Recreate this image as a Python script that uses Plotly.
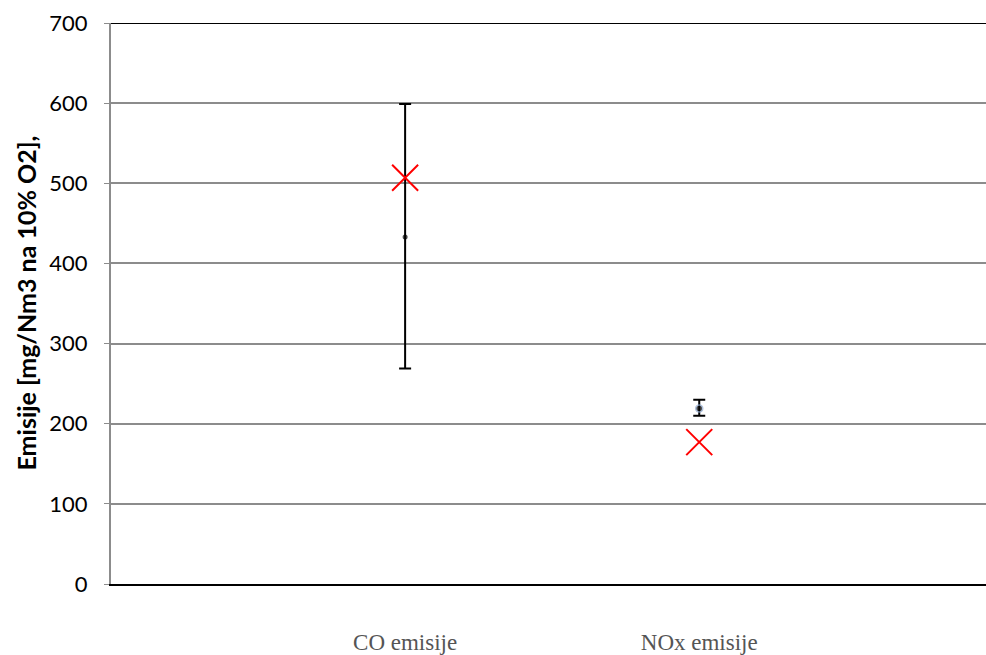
import plotly.graph_objects as go

categories = ["CO emisije", "NOx emisije"]
mean_values = [433, 219]
upper_values = [599, 230]
lower_values = [269, 210]
limit_values = [507, 177]
y_ticks = [0, 100, 200, 300, 400, 500, 600, 700]
y_title = "Emisije [mg/Nm3 na 10% O2],"

err_plus = [u - m for u, m in zip(upper_values, mean_values)]
err_minus = [m - l for m, l in zip(mean_values, lower_values)]

fig = go.Figure()
fig.add_trace(go.Scatter(
    x=categories, y=mean_values, mode="markers",
    marker=dict(size=[5, 7], color="black", line=dict(color=["black", "#8fa9d0"], width=[0, 1.5])),
    error_y=dict(type="data", symmetric=False, array=err_plus, arrayminus=err_minus,
                 color="black", thickness=2, width=6),
    showlegend=False, hoverinfo="y"))
fig.add_trace(go.Scatter(
    x=categories, y=limit_values, mode="markers",
    marker=dict(symbol="x-thin-open", size=26, color="red", line=dict(color="red", width=2)),
    showlegend=False))

fig.add_shape(type="line", xref="paper", yref="y", x0=0, x1=1, y0=700, y1=700,
              line=dict(color="black", width=2))

fig.add_annotation(
    text="<b>" + y_title + "</b>", xref="paper", yref="paper", x=0, y=0.5,
    xanchor="center", yanchor="middle", xshift=-86, textangle=-90, showarrow=False,
    font=dict(family="Lato, sans-serif", size=25, color="black"))

fig.update_layout(
    width=986, height=655,
    margin=dict(l=111, r=0, t=23, b=62),
    plot_bgcolor="white", paper_bgcolor="white",
    font=dict(family="Lato, sans-serif", color="black"),
)
fig.update_xaxes(
    type="category", categoryorder="array", categoryarray=categories,
    range=[-1.0, 1.975], showgrid=False, zeroline=False,
    showline=True, linecolor="black", linewidth=2,
    ticks="", ticklabelstandoff=36,
    tickfont=dict(family="Liberation Serif, serif", size=23, color="#555555"),
)
fig.update_yaxes(
    range=[0, 700], tickvals=y_ticks, showgrid=True, gridcolor="#8c8c8c", gridwidth=1.5,
    zeroline=False, showline=True, linecolor="#8c8c8c", linewidth=2,
    ticks="outside", ticklen=5, tickcolor="#8c8c8c", ticklabelstandoff=12,
    tickfont=dict(family="Lato, sans-serif", size=22, color="black"),
)

fig.write_html(
    "out.html",
    config={"displayModeBar": False},
    post_script="document.body.style.margin='0';document.body.style.overflow='hidden';"
                "Plotly.relayout(document.getElementById('{plot_id}'), {width: 986, height: 655});",
)
